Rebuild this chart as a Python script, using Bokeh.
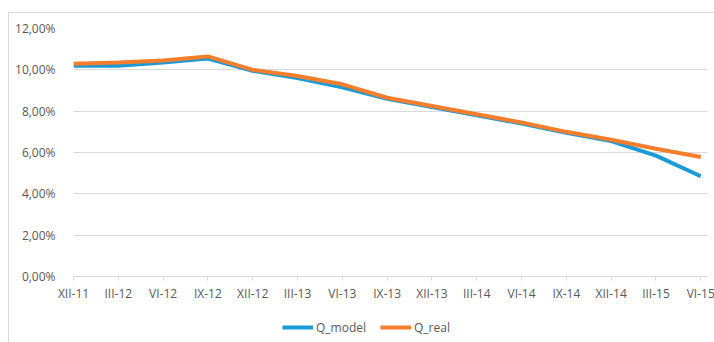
from bokeh.plotting import figure
from bokeh.models import FixedTicker, Legend, LegendItem, Range1d, ColumnDataSource
from bokeh.layouts import column
from bokeh.embed import file_html
from bokeh.resources import INLINE

categories = ["XII-11", "III-12", "VI-12", "IX-12", "XII-12", "III-13", "VI-13", "IX-13",
              "XII-13", "III-14", "VI-14", "IX-14", "XII-14", "III-15", "VI-15"]
q_model = [10.2, 10.2, 10.35, 10.55, 9.95, 9.6, 9.15, 8.6, 8.2, 7.8, 7.4, 6.95, 6.55, 5.85, 4.85]
q_real = [10.3, 10.35, 10.45, 10.65, 10.0, 9.7, 9.3, 8.65, 8.25, 7.85, 7.45, 7.0, 6.62, 6.18, 5.78]
series_names = ["Q_model", "Q_real"]
y_ticks = [0, 2, 4, 6, 8, 10, 12]
y_labels = ["0,00%", "2,00%", "4,00%", "6,00%", "8,00%", "10,00%", "12,00%"]

FONT = "Open Sans"
TXT = "#595959"
GRID = "#d9d9d9"
BLUE = "#1B9AD8"
ORANGE = "#F47E2B"

xs = list(range(len(categories)))
src = ColumnDataSource(dict(x=xs, m=q_model, r=q_real))

# main chart
p = figure(width=706, height=298, output_backend="svg", toolbar_location=None,
           x_range=Range1d(0, 14.15), y_range=Range1d(0, 12),
           min_border_left=64, min_border_right=8, min_border_top=15, min_border_bottom=35)
p.outline_line_color = None
p.background_fill_color = "white"
p.border_fill_color = "white"

lm = p.line("x", "m", source=src, line_color=BLUE, line_width=4, line_join="round")
lr = p.line("x", "r", source=src, line_color=ORANGE, line_width=4, line_join="round")

p.xaxis.ticker = FixedTicker(ticks=xs)
p.xaxis.major_label_overrides = {i: c for i, c in enumerate(categories)}
p.xaxis.axis_line_color = GRID
p.xaxis.major_tick_line_color = GRID
p.xaxis.major_tick_in = 0
p.xaxis.major_tick_out = 4
p.xaxis.minor_tick_line_color = None
p.xaxis.major_label_standoff = 4
p.xaxis.major_label_text_font = FONT
p.xaxis.major_label_text_font_size = "12px"
p.xaxis.major_label_text_color = TXT

p.yaxis.ticker = FixedTicker(ticks=y_ticks)
p.yaxis.major_label_overrides = {t: l for t, l in zip(y_ticks, y_labels)}
p.yaxis.axis_line_color = None
p.yaxis.major_tick_line_color = None
p.yaxis.minor_tick_line_color = None
p.yaxis.major_label_standoff = 12
p.yaxis.major_label_text_font = FONT
p.yaxis.major_label_text_font_size = "12px"
p.yaxis.major_label_text_color = TXT

p.xgrid.grid_line_color = None
p.ygrid.grid_line_color = GRID
p.ygrid.grid_line_width = 1

# legend strip below the chart (its frame is aligned with the chart's frame)
p2 = figure(width=706, height=32, output_backend="svg", toolbar_location=None,
            x_range=Range1d(0, 1), y_range=Range1d(0, 1),
            x_axis_location=None, y_axis_location=None,
            min_border_left=0, min_border_right=0, min_border_top=0, min_border_bottom=0)
p2.outline_line_color = None
p2.xgrid.grid_line_color = None
p2.ygrid.grid_line_color = None
p2.border_fill_color = "white"
nan = float("nan")
dm = p2.line(x=[nan], y=[nan], line_color=BLUE, line_width=4)
dr = p2.line(x=[nan], y=[nan], line_color=ORANGE, line_width=4)

legend = Legend(items=[LegendItem(label=series_names[0], renderers=[dm]),
                       LegendItem(label=series_names[1], renderers=[dr])],
                location=(209, 6), orientation="horizontal",
                padding=0, margin=0, spacing=14, glyph_width=31, glyph_height=20,
                label_standoff=3, border_line_color=None, background_fill_alpha=0,
                label_text_font=FONT, label_text_font_size="12px", label_text_color=TXT)
p2.add_layout(legend, "center")

layout = column(p, p2, spacing=0)
layout.margin = (12, 0, 0, 8)
layout.styles = {"border-left": "1px solid #d9d9d9", "border-top": "1px solid #d9d9d9"}

open("out.html", "w").write(file_html(layout, INLINE))
